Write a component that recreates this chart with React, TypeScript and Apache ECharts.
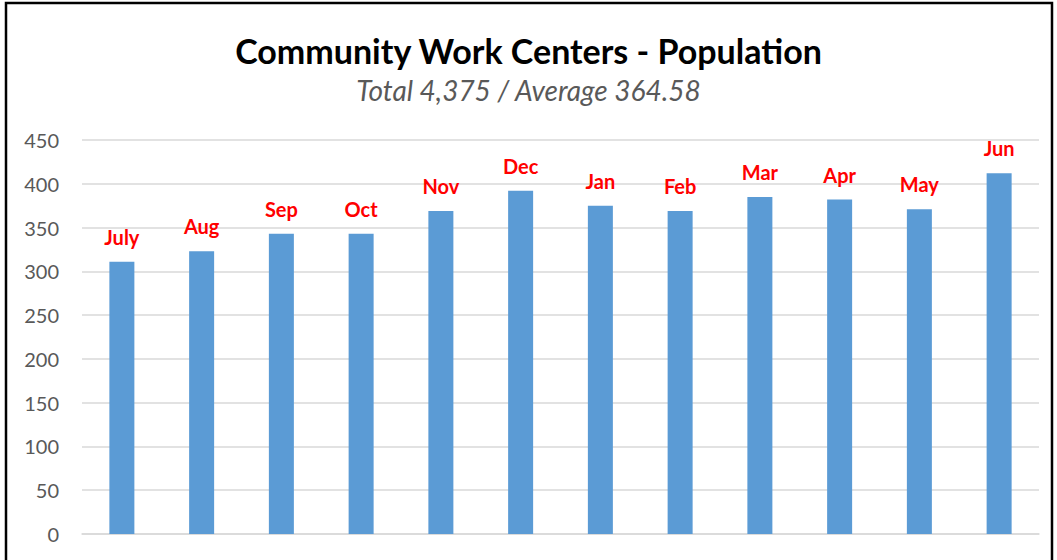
import React, { useEffect, useRef } from "react";
import * as echarts from "echarts";

const months = ["July", "Aug", "Sep", "Oct", "Nov", "Dec", "Jan", "Feb", "Mar", "Apr", "May", "Jun"];
const population = [311, 323, 343, 343, 369, 392, 375, 369, 385, 382, 371, 412];
const titleText = "Community Work Centers - Population";
const subtitleText = "Total 4,375 / Average 364.58";

export default function App() {
  const ref = useRef<HTMLDivElement>(null);
  useEffect(() => {
    if (!ref.current) return;
    const chart = echarts.init(ref.current, undefined, { renderer: "svg" });
    chart.setOption({
      animation: false,
      backgroundColor: "#ffffff",
      title: [
        {
          text: titleText,
          left: "center",
          top: 25,
          textStyle: { fontFamily: "Lato", fontWeight: "bold", fontSize: 34, color: "#000000", lineHeight: 40 },
        },
        {
          text: subtitleText,
          left: "center",
          top: 69,
          textStyle: { fontFamily: "Lato", fontStyle: "italic", fontWeight: "normal", fontSize: 28, color: "#595959", lineHeight: 32 },
        },
      ],
      graphic: [
        {
          type: "rect",
          shape: { x: 6, y: 3, width: 1046, height: 620 },
          style: { fill: "none", stroke: "#000000", lineWidth: 2.5 },
          z: 100,
        },
      ],
      grid: { left: 82, right: 18, top: 140, bottom: 26, containLabel: false },
      xAxis: {
        type: "category",
        data: months,
        axisLine: { show: true, lineStyle: { color: "#d9d9d9", width: 1.5 } },
        axisTick: { show: false },
        axisLabel: { show: false },
      },
      yAxis: {
        type: "value",
        min: 0,
        max: 450,
        interval: 50,
        axisLine: { show: false },
        axisTick: { show: false },
        splitLine: { lineStyle: { color: "#d9d9d9", width: 1.5 } },
        axisLabel: { fontFamily: "Lato", fontSize: 20, color: "#595959", margin: 23 },
      },
      series: [
        {
          type: "bar",
          data: population,
          barWidth: 25,
          itemStyle: { color: "#5b9bd5" },
          label: {
            show: true,
            position: "top",
            distance: 15,
            formatter: (p: any) => months[p.dataIndex],
            fontFamily: "Lato",
            fontWeight: "bold",
            fontSize: 20,
            lineHeight: 20,
            color: "#ff0000",
          },
        },
      ],
    });
    return () => chart.dispose();
  }, []);
  return <div ref={ref} style={{ position: "fixed", left: 0, top: 0, width: 1057, height: 560 }} />;
}
